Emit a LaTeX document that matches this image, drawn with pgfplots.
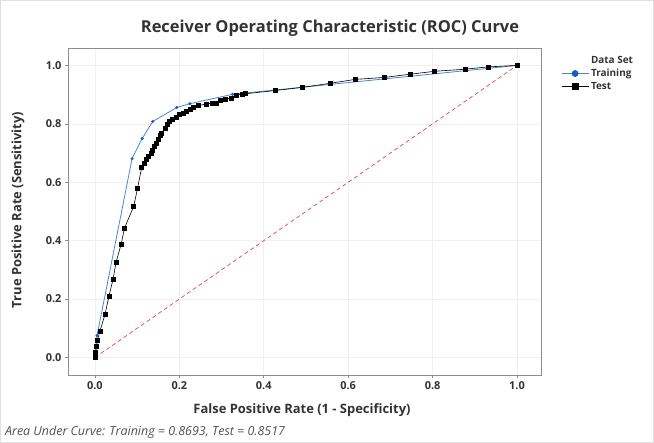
\documentclass[border=0pt]{standalone}
\usepackage{pgfplots}
\pgfplotsset{compat=1.18}
\usepackage{fontspec}
\setmainfont{Open Sans}
\definecolor{trainblue}{RGB}{20,95,190}
\definecolor{trainline}{RGB}{70,135,210}
\definecolor{txtgray}{RGB}{51,51,51}
\definecolor{refred}{RGB}{225,70,70}
\definecolor{gridgray}{RGB}{240,240,240}
\definecolor{framegray}{RGB}{140,140,140}
\begin{document}
\begin{tikzpicture}[x=1bp,y=1bp]
\draw[gray!25,line width=0.8bp] (-67.5,-67.5) rectangle (585.5,374.5);
\begin{axis}[
  scale only axis,
  width=473bp, height=327bp,
  at={(0,0)}, anchor=south west,
  xmin=-0.064, xmax=1.057,
  ymin=-0.06, ymax=1.06,
  xtick={0,0.2,...,1.0}, ytick={0,0.2,...,1.0},
  xticklabel style={/pgf/number format/.cd,fixed,fixed zerofill,precision=1},
  yticklabel style={/pgf/number format/.cd,fixed,fixed zerofill,precision=1},
  /pgf/number format/assume math mode=true,
  ticklabel style={font=\fontsize{11}{13}\selectfont\bfseries, text=txtgray},
  tick align=outside, tick pos=left,
  major tick length=3bp,
  tick style={framegray, line width=0.6bp},
  axis line style={framegray, line width=0.8bp},
  grid=major, grid style={gridgray, line width=0.6bp},
  legend style={draw=none, fill=none, at={(1.04,0.985)}, anchor=north west,
    font=\fontsize{10}{12}\selectfont\bfseries, text=txtgray,
    row sep=0.3bp, inner sep=1bp},
  legend cell align=left,
  legend image code/.code={\draw[mark repeat=2, mark phase=2, #1] plot coordinates {(0bp,0bp) (13.5bp,0bp) (27bp,0bp)};},
  legend image post style={mark size=3bp},
]
\addlegendimage{empty legend}
\addlegendentry{Data Set}
\addplot[refred, dash pattern=on 4bp off 3bp, line width=0.7bp, forget plot] coordinates {(0,0) (1,1)};
\addplot[trainline, line width=0.8bp, mark=*, mark size=1.1bp, mark options={fill=trainblue, draw=trainblue}] coordinates {
(0,0) (0.002,0.04) (0.005,0.075) (0.088,0.681) (0.112,0.750) (0.137,0.808)
(0.194,0.856) (0.225,0.869) (0.326,0.901) (1,1)
};
\addlegendentry{Training}
\addplot[black, line width=0.6bp, mark=square*, mark size=2.0bp, mark options={fill=black}] coordinates {
(0,0) (0.001,0.008) (0.002,0.018) (0.004,0.040) (0.006,0.060) (0.012,0.091) (0.024,0.148)
(0.033,0.209) (0.043,0.268) (0.050,0.326) (0.062,0.387) (0.070,0.443) (0.092,0.518)
(0.101,0.580) (0.111,0.652) (0.116,0.665) (0.122,0.677) (0.126,0.688) (0.134,0.698)
(0.137,0.711) (0.140,0.723) (0.145,0.734) (0.149,0.747) (0.154,0.762) (0.157,0.768)
(0.167,0.785) (0.171,0.800) (0.176,0.808) (0.184,0.814) (0.192,0.822) (0.201,0.831)
(0.209,0.837) (0.217,0.842) (0.225,0.851) (0.233,0.857) (0.245,0.862) (0.263,0.868)
(0.279,0.871) (0.287,0.871) (0.296,0.881) (0.308,0.885) (0.324,0.888) (0.336,0.897)
(0.348,0.902) (0.357,0.903) (0.427,0.914) (0.492,0.925) (0.558,0.939) (0.616,0.952)
(0.686,0.959) (0.748,0.970) (0.805,0.980) (0.877,0.987) (0.931,0.995) (1,1)
};
\addlegendentry{Test}
\end{axis}
\node[font=\fontsize{16.5}{19}\selectfont\bfseries, text=txtgray] at (262,347) {Receiver Operating Characteristic (ROC) Curve};
\node[font=\fontsize{13}{15}\selectfont\bfseries, text=txtgray, rotate=90] at (-50,165) {True Positive Rate (Sensitivity)};
\node[font=\fontsize{13}{15}\selectfont\bfseries, text=txtgray] at (234,-35) {False Positive Rate (1 - Specificity)};
\node[font=\fontsize{12.5}{15}\selectfont\itshape, text=txtgray!85, anchor=west, inner sep=0pt] at (-63,-57) {Area Under Curve: Training = 0.8693, Test = 0.8517};
\end{tikzpicture}
\end{document}
